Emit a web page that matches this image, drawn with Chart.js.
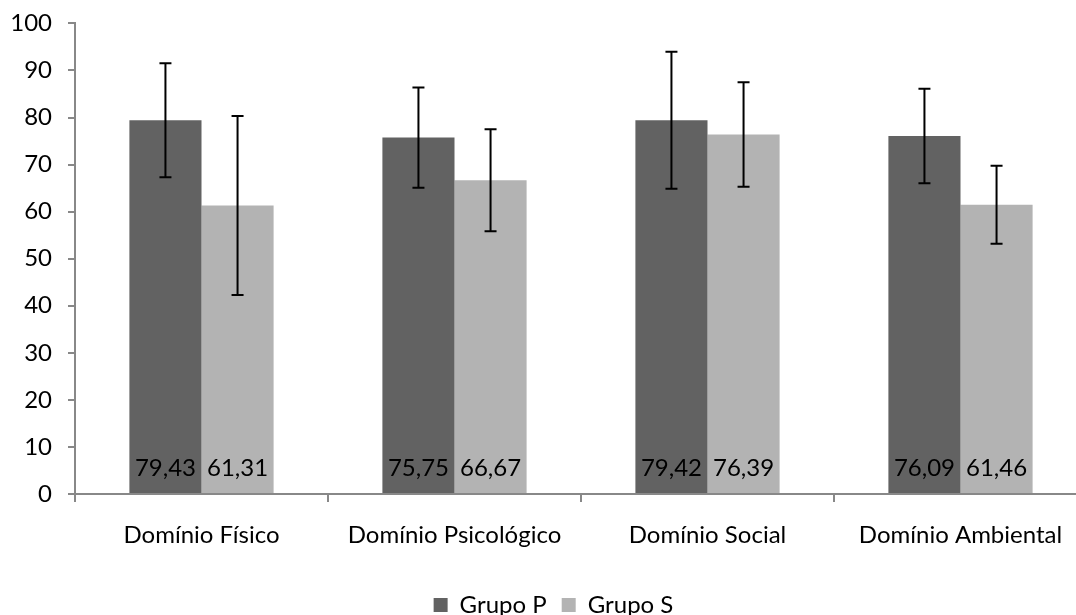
<!DOCTYPE html>
<html>
<head>
<meta charset="utf-8">
<script src="https://cdn.jsdelivr.net/npm/chart.js@4"></script>
<style>
  html, body { margin: 0; padding: 0; background: #fff; overflow: hidden; }
  #wrap { width: 1095px; height: 634px; margin-top: -7px; }
</style>
</head>
<body>
<div id="wrap"><canvas id="barChart"></canvas></div>
<script>
// dados
const categorias = ['Domínio Físico', 'Domínio Psicológico', 'Domínio Social', 'Domínio Ambiental'];
const grupoP = [79.43, 75.75, 79.42, 76.09];
const grupoS = [61.31, 66.67, 76.39, 61.46];
const erroP = [12.1, 10.65, 14.55, 10.05];   // desvio (+/-)
const erroS = [19.0, 10.85, 11.1, 8.3];
const rotulosP = ['79,43', '75,75', '79,42', '76,09'];
const rotulosS = ['61,31', '66,67', '76,39', '61,46'];
const ticksY = [0, 10, 20, 30, 40, 50, 60, 70, 80, 90, 100];

const FONTE = 'Lato';
const TAM = 24;

// barras de erro + valores dentro das barras
const extrasPlugin = {
    id: 'extras',
    beforeDraw(chart) {
        // legenda um pouco mais para a direita (centrada como no original)
        if (!chart.legend._movida) {
            chart.legend.left += 10;
            chart.legend.right += 10;
            chart.legend._movida = true;
        }
    },
    afterDatasetsDraw(chart) {
        const ctx = chart.ctx;
        const y = chart.scales.y;
        const erros = [erroP, erroS];
        const rotulos = [rotulosP, rotulosS];
        chart.data.datasets.forEach((ds, di) => {
            const meta = chart.getDatasetMeta(di);
            meta.data.forEach((bar, i) => {
                // valor
                ctx.save();
                ctx.font = TAM + 'px ' + FONTE;
                ctx.fillStyle = '#000';
                ctx.textAlign = 'center';
                ctx.textBaseline = 'middle';
                ctx.fillText(rotulos[di][i], bar.x, y.getPixelForValue(0) - 26);
                ctx.restore();

                // erro
                const v = ds.data[i];
                const top = y.getPixelForValue(v + erros[di][i]);
                const bot = y.getPixelForValue(v - erros[di][i]);
                ctx.save();
                ctx.strokeStyle = '#000';
                ctx.lineWidth = 2;
                ctx.beginPath();
                ctx.moveTo(bar.x, top);
                ctx.lineTo(bar.x, bot);
                ctx.moveTo(bar.x - 6, top);
                ctx.lineTo(bar.x + 6, top);
                ctx.moveTo(bar.x - 6, bot);
                ctx.lineTo(bar.x + 6, bot);
                ctx.stroke();
                ctx.restore();
            });
        });
    }
};

const ctx = document.getElementById('barChart').getContext('2d');
new Chart(ctx, {
    type: 'bar',
    data: {
        labels: categorias,
        datasets: [
            {
                label: 'Grupo P',
                data: grupoP,
                backgroundColor: '#626262',
                categoryPercentage: 0.57,
                barPercentage: 1.0
            },
            {
                label: 'Grupo S',
                data: grupoS,
                backgroundColor: '#b3b3b3',
                categoryPercentage: 0.57,
                barPercentage: 1.0
            }
        ]
    },
    options: {
        responsive: true,
        maintainAspectRatio: false,
        animation: false,
        layout: { padding: { top: 2, right: 8, left: 0, bottom: 0 } },
        scales: {
            x: {
                grid: { drawOnChartArea: false, offset: true, tickLength: 8, color: '#888', lineWidth: 2 },
                border: { color: '#888', width: 2 },
                ticks: { color: '#000', font: { family: FONTE, size: TAM }, padding: 19, maxRotation: 0 },
                afterFit(scale) { scale.height = 84; }
            },
            y: {
                min: 0,
                max: 100,
                afterBuildTicks(scale) { scale.ticks = ticksY.map(v => ({ value: v })); },
                grid: { drawOnChartArea: false, tickLength: 7, color: '#888', lineWidth: 2 },
                border: { color: '#888', width: 2 },
                ticks: { color: '#000', font: { family: FONTE, size: TAM }, padding: 16 },
                afterFit(scale) { scale.width = 75; }
            }
        },
        plugins: {
            legend: {
                position: 'bottom',
                labels: {
                    boxWidth: 14,
                    boxHeight: 14,
                    padding: 15,
                    color: '#000',
                    font: { family: FONTE, size: TAM }
                }
            },
            tooltip: { enabled: false }
        }
    },
    plugins: [extrasPlugin]
});
</script>
</body>
</html>
